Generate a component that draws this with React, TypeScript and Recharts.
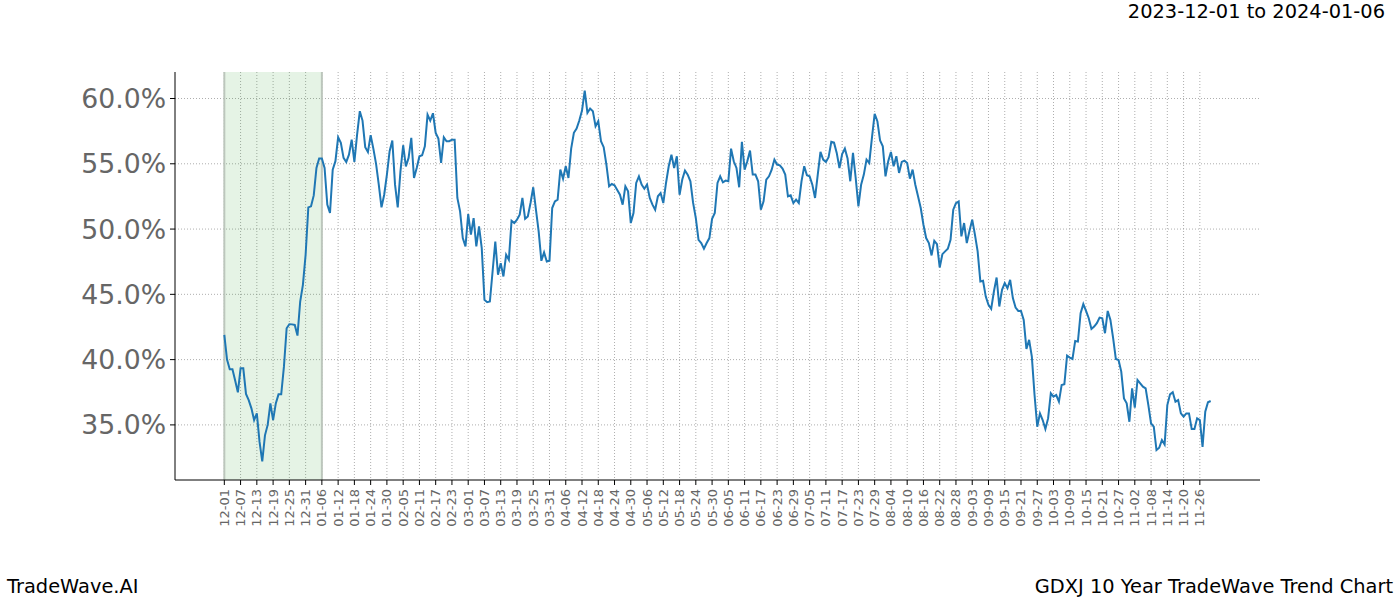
import React from 'react';
import { LineChart, Line, XAxis, YAxis, CartesianGrid, ReferenceArea, ReferenceLine } from 'recharts';

// one reading per calendar day, day 0 = 12-01
const trendValues = [
  41.89, 40.0, 39.26, 39.26, 38.4, 37.5, 39.33, 39.33, 37.37, 36.9,
  36.27, 35.37, 35.88, 33.7, 32.2, 34.2, 35.0, 36.65, 35.37, 36.65,
  37.34, 37.34, 39.46, 42.4, 42.71, 42.7, 42.66, 41.84, 44.45, 45.73,
  48.03, 51.66, 51.74, 52.58, 54.68, 55.4, 55.4, 54.68, 51.87, 51.23,
  54.55, 55.2, 57.03, 56.6, 55.45, 55.14, 55.7, 56.85, 55.14, 57.24,
  59.03, 58.31, 56.27, 55.9, 57.19, 56.16, 54.99, 53.4, 51.66, 52.63,
  54.17, 55.96, 56.78, 53.4, 51.66, 54.42, 56.42, 54.8, 55.45, 56.98,
  53.91, 54.68, 55.58, 55.65, 56.34, 58.77, 58.31, 58.87, 57.37, 56.93,
  55.06, 57.03, 56.73, 56.73, 56.85, 56.85, 52.38, 51.36, 49.31, 48.67,
  51.15, 49.57, 50.84, 48.67, 50.2, 48.54, 44.58, 44.4, 44.45, 46.75,
  49.05, 46.5, 47.39, 46.37, 48.03, 47.65, 50.64, 50.46, 50.72, 51.1,
  52.38, 50.79, 50.97, 52.0, 53.2, 51.48, 49.82, 47.57, 48.21, 47.52,
  47.57, 51.61, 52.12, 52.25, 54.55, 53.86, 54.81, 53.91, 56.16, 57.37,
  57.7, 58.31, 59.08, 60.61, 58.9, 59.23, 59.03, 57.88, 58.26, 56.73,
  56.27, 54.94, 53.27, 53.45, 53.35, 52.99, 52.63, 51.87, 53.27, 52.89,
  50.46, 51.23, 53.53, 54.04, 53.4, 53.09, 53.4, 52.38, 51.87, 51.48,
  52.51, 52.76, 51.99, 53.53, 54.81, 55.7, 54.68, 55.58, 52.63, 53.79,
  54.48, 54.17, 53.66, 52.0, 50.84, 49.18, 48.93, 48.49, 48.93, 49.31,
  50.79, 51.23, 53.53, 54.04, 53.58, 53.71, 53.66, 56.16, 55.19, 54.68,
  53.2, 56.68, 54.55, 55.19, 56.01, 54.17, 54.17, 53.66, 51.48, 52.12,
  53.79, 54.04, 54.55, 55.32, 54.94, 54.88, 54.63, 54.17, 52.51, 52.58,
  51.99, 52.25, 51.99, 53.66, 54.81, 54.12, 54.04, 53.4, 52.38, 54.17,
  55.91, 55.32, 55.14, 55.5, 56.68, 56.62, 55.83, 54.68, 55.75, 56.16,
  55.4, 53.66, 55.83, 53.91, 51.74, 53.4, 54.17, 55.32, 55.06, 57.0,
  58.82, 58.26, 56.78, 56.34, 54.04, 55.19, 55.91, 54.81, 55.58, 54.3,
  55.14, 55.24, 55.06, 53.86, 54.55, 53.4, 52.51, 51.61, 50.33, 49.31,
  48.93, 47.98, 49.1, 48.85, 47.06, 48.08, 48.29, 48.49, 49.18, 51.48,
  51.99, 52.12, 49.44, 50.46, 48.93, 49.87, 50.72, 49.57, 48.29, 45.98,
  46.04, 44.83, 44.19, 43.89, 45.22, 46.29, 44.07, 45.35, 45.86, 45.47,
  46.11, 44.71, 43.99, 43.73, 43.73, 43.04, 40.82, 41.51, 40.23, 37.29,
  34.86, 35.88, 35.37, 34.68, 35.5, 37.42, 37.16, 37.29, 36.78, 38.06,
  38.11, 40.31, 40.15, 40.05, 41.43, 41.38, 43.55, 44.25, 43.73, 43.17,
  42.35, 42.53, 42.79, 43.22, 43.17, 42.02, 43.73, 43.04, 41.64, 40.05,
  39.97, 39.08, 37.03, 36.65, 35.24, 37.8, 36.32, 38.44, 38.18, 37.93,
  37.8, 36.52, 35.11, 34.86, 33.07, 33.25, 33.84, 33.5, 36.52, 37.34,
  37.5, 36.78, 36.9, 35.88, 35.63, 35.88, 35.88, 34.68, 34.68, 35.5,
  35.37, 33.32, 36.01, 36.73, 36.83,
];

const tickLabels = [
  '12-01', '12-07', '12-13', '12-19', '12-25', '12-31', '01-06', '01-12', '01-18', '01-24',
  '01-30', '02-05', '02-11', '02-17', '02-23', '03-01', '03-07', '03-13', '03-19', '03-25',
  '03-31', '04-06', '04-12', '04-18', '04-24', '04-30', '05-06', '05-12', '05-18', '05-24',
  '05-30', '06-05', '06-11', '06-17', '06-23', '06-29', '07-05', '07-11', '07-17', '07-23',
  '07-29', '08-04', '08-10', '08-16', '08-22', '08-28', '09-03', '09-09', '09-15', '09-21',
  '09-27', '10-03', '10-09', '10-15', '10-21', '10-27', '11-02', '11-08', '11-14', '11-20',
  '11-26',
];
const tickStep = 6;
const yTicks = [35, 40, 45, 50, 55, 60];

// highlighted window 12-01 .. 01-06
const highlightStart = 0;
const highlightEnd = 36;

const xDomain: [number, number] = [-18.2, 382.2];
const yDomain: [number, number] = [30.78, 62.03];

const chartData = trendValues.map((v, i) => ({ day: i, value: v }));
const xTicks = tickLabels.map((_, i) => i * tickStep);

const FONT = '"DejaVu Sans", sans-serif';

function DateTick(props: any) {
  const { x, y, payload } = props;
  const label = tickLabels[Math.round(payload.value / tickStep)] ?? '';
  const ty = y + 2;
  return (
    <text
      x={x}
      y={ty}
      transform={`rotate(-90, ${x}, ${ty})`}
      textAnchor="end"
      dominantBaseline="central"
      fill="#666"
      fontSize={13}
      fontFamily={FONT}
    >
      {label}
    </text>
  );
}

// grid lines only at the tick values, not on the plot border
const gridH = ({ offset }: any) =>
  yTicks.map((t) => offset.top + offset.height * (1 - (t - yDomain[0]) / (yDomain[1] - yDomain[0])));
const gridV = ({ offset }: any) =>
  xTicks.map((t) => offset.left + offset.width * ((t - xDomain[0]) / (xDomain[1] - xDomain[0])));

export default function App() {
  return (
    <div style={{ position: 'absolute', left: 0, top: 0, width: 1400, height: 600, background: '#fff', fontFamily: FONT }}>
      <LineChart
        width={1400}
        height={600}
        data={chartData}
        margin={{ top: 72, right: 140, left: 75, bottom: 60 }}
      >
        <CartesianGrid
          stroke="#999"
          strokeDasharray="1 2"
          strokeWidth={0.8}
          horizontalCoordinatesGenerator={gridH}
          verticalCoordinatesGenerator={gridV}
        />
        <ReferenceArea x1={highlightStart} x2={highlightEnd} fill="#2ca02c" fillOpacity={0.12} stroke="none" />
        <ReferenceLine x={highlightStart} stroke="#bcc6bc" strokeWidth={2} />
        <ReferenceLine x={highlightEnd} stroke="#bcc6bc" strokeWidth={2} />
        <XAxis
          dataKey="day"
          type="number"
          domain={xDomain}
          ticks={xTicks}
          interval={0}
          height={60}
          axisLine={{ stroke: '#000', strokeWidth: 1 }}
          tickLine={{ stroke: '#000' }}
          tickSize={5}
          tick={<DateTick />}
          allowDataOverflow
        />
        <YAxis
          type="number"
          domain={yDomain}
          ticks={yTicks}
          width={100}
          axisLine={{ stroke: '#000', strokeWidth: 1 }}
          tickLine={{ stroke: '#000' }}
          tickSize={5}
          tickMargin={4}
          tick={{ fill: '#666', fontSize: 26.7, fontFamily: FONT }}
          tickFormatter={(v: number) => `${v.toFixed(1)}%`}
          allowDataOverflow
        />
        <Line
          type="linear"
          dataKey="value"
          stroke="#1f77b4"
          strokeWidth={2}
          dot={false}
          isAnimationActive={false}
        />
      </LineChart>
      <div style={{ position: 'absolute', right: 15, top: 0, fontSize: 19.4, color: '#000', lineHeight: '24px' }}>
        2023-12-01 to 2024-01-06
      </div>
      <div style={{ position: 'absolute', left: 7, top: 575, fontSize: 19.4, color: '#000', lineHeight: '24px' }}>
        TradeWave.AI
      </div>
      <div style={{ position: 'absolute', right: 7, top: 575, fontSize: 19.4, color: '#000', lineHeight: '24px' }}>
        GDXJ 10 Year TradeWave Trend Chart
      </div>
    </div>
  );
}
